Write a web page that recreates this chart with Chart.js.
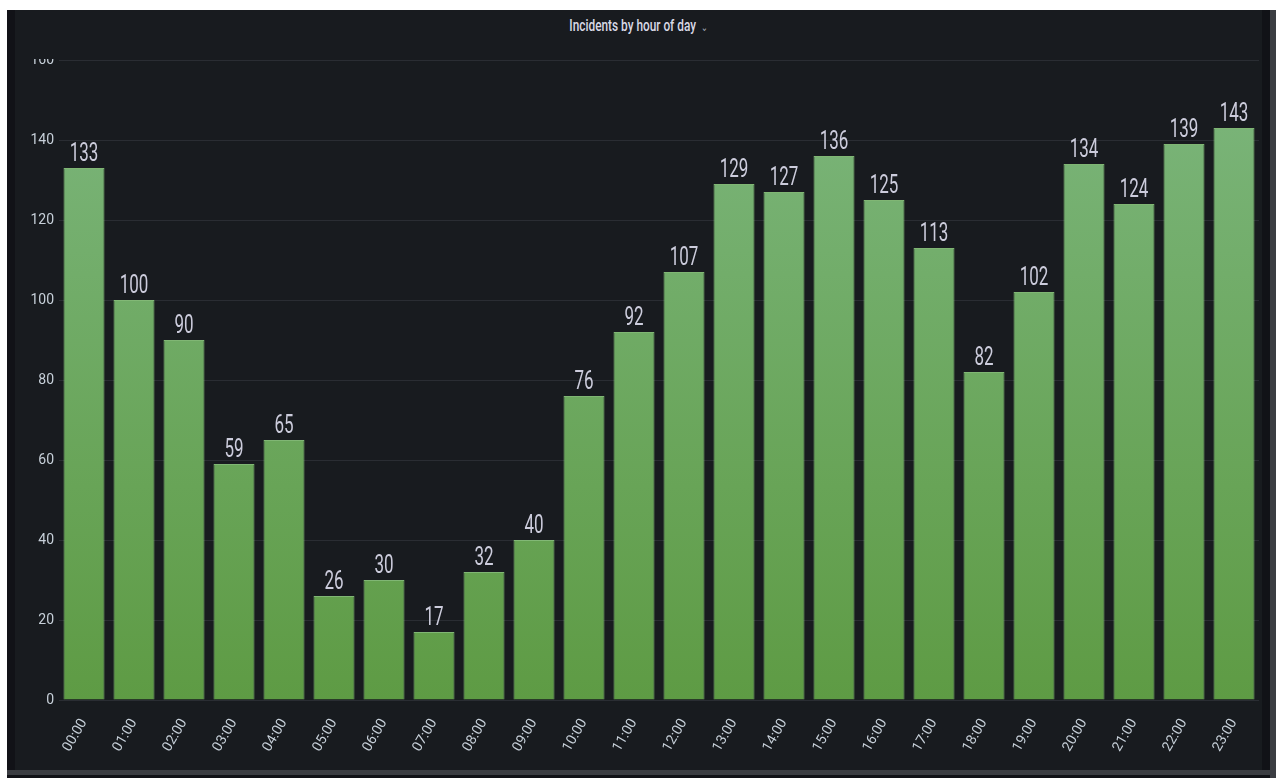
<!DOCTYPE html>
<html>
<head>
<meta charset="utf-8">
<script src="https://cdn.jsdelivr.net/npm/chart.js@4.4.1/dist/chart.umd.min.js"></script>
<style>
  html, body { margin: 0; padding: 0; background: #ffffff; width: 1276px; height: 778px; overflow: hidden; }
  #outer { position: absolute; left: 7px; top: 10px; width: 1269px; height: 768px; background: #111217; }
  #panel { position: absolute; left: 15px; top: 10px; width: 1247px; height: 760px; background: #181b1f; }
  #rightbar { position: absolute; left: 1270px; top: 10px; width: 6px; height: 768px; background: #3b3d42; }
  #bottombar { position: absolute; left: 7px; top: 770px; width: 1269px; height: 5px; background: #3b3d42; }
  #wrap { position: absolute; left: 0; top: 0; width: 1276px; height: 778px; }
  #cover { position: absolute; left: 15px; top: 10px; width: 1247px; height: 49px; background: #181b1f; }
  #title { position: absolute; left: 15px; top: 16px; width: 1247px; text-align: center;
    font-family: Roboto, sans-serif; font-size: 16px; font-weight: 500; color: #d8d9e6; }
  #title .t { display: inline-block; transform: scaleX(0.74); transform-origin: center; }
  #title span.c { font-size: 11px; color: #9fa7b3; margin-left: 3px; }
</style>
</head>
<body>
<div id="outer"></div>
<div id="panel"></div>
<div id="rightbar"></div>
<div id="bottombar"></div>
<div id="wrap"><canvas id="grafico"></canvas></div>
<div id="cover"></div>
<div id="title"><span class="t">Incidents by hour of day <span class="c">&#8964;</span></span></div>
<script>
const horas = ['00:00', '01:00', '02:00', '03:00', '04:00', '05:00', '06:00', '07:00',
  '08:00', '09:00', '10:00', '11:00', '12:00', '13:00', '14:00', '15:00',
  '16:00', '17:00', '18:00', '19:00', '20:00', '21:00', '22:00', '23:00'];
const incidentes = [133, 100, 90, 59, 65, 26, 30, 17, 32, 40, 76, 92,
  107, 129, 127, 136, 125, 113, 82, 102, 134, 124, 139, 143];
const ticksY = [0, 20, 40, 60, 80, 100, 120, 140, 160];

const fonte = 'Roboto, sans-serif';

// desenha os valores acima de cada barra (fonte estreita)
const rotulos = {
  id: 'rotulos',
  afterDatasetsDraw(chart) {
    const ctx = chart.ctx;
    const meta = chart.getDatasetMeta(0);
    ctx.font = '25px ' + fonte;
    ctx.fillStyle = '#ccccdc';
    ctx.textAlign = 'center';
    ctx.textBaseline = 'alphabetic';
    meta.data.forEach((bar, i) => {
      ctx.save();
      ctx.translate(bar.x, bar.y - 7);
      ctx.scale(0.68, 1);
      ctx.fillText(String(incidentes[i]), 0, 0);
      ctx.restore();
    });
  }
};

function gradiente(context) {
  const area = context.chart.chartArea;
  if (!area) return '#6aa85a';
  const g = context.chart.ctx.createLinearGradient(0, area.top, 0, area.bottom);
  g.addColorStop(0, '#7cb67d');
  g.addColorStop(1, '#5e9b44');
  return g;
}

const ctx = document.getElementById('grafico');
new Chart(ctx, {
  type: 'bar',
  data: {
    labels: horas,
    datasets: [{
      label: 'Incidents',
      data: incidentes,
      backgroundColor: gradiente,
      borderColor: 'rgba(140, 200, 125, 0.9)',
      borderWidth: 1,
      categoryPercentage: 1,
      barPercentage: 0.82
    }]
  },
  options: {
    responsive: true,
    maintainAspectRatio: false,
    animation: false,
    layout: { padding: { top: 60, right: 17, left: 0, bottom: 0 } },
    plugins: { legend: { display: false }, tooltip: { enabled: false } },
    scales: {
      y: {
        min: 0,
        max: 160,
        afterBuildTicks(scale) { scale.ticks = ticksY.map(v => ({ value: v })); },
        afterFit(scale) { scale.width = 59; },
        border: { display: false },
        grid: { color: '#2a2d33', drawTicks: false },
        ticks: { color: '#c7d0d9', padding: 5, font: { family: fonte, size: 14 } }
      },
      x: {
        afterFit(scale) { scale.height = 78; },
        border: { display: false },
        grid: { display: false },
        ticks: {
          color: '#c7d0d9',
          minRotation: 60,
          maxRotation: 60,
          padding: 8,
          font: { family: fonte, size: 14 }
        }
      }
    }
  },
  plugins: [rotulos]
});
</script>
</body>
</html>
